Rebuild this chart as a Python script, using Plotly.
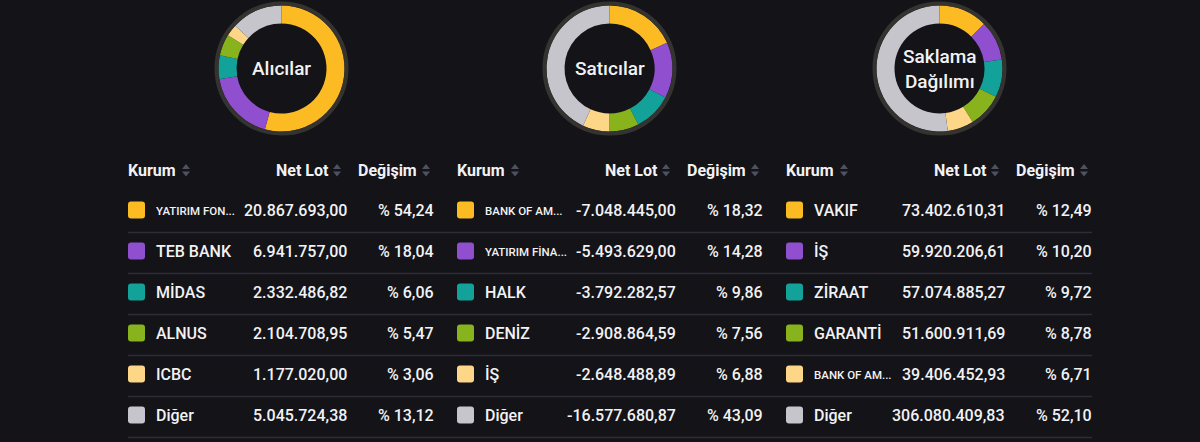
import plotly.graph_objects as go

W, H = 1200, 442
BG = "#131318"

# ---------------- data ----------------
donut_titles = ["Alıcılar", "Satıcılar", "Saklama<br>Dağılımı"]

buy_names = ["YATIRIM FON...", "TEB BANK", "MİDAS", "ALNUS", "ICBC", "Diğer"]
buy_lots = [20867693.00, 6941757.00, 2332486.82, 2104708.95, 1177020.00, 5045724.38]
buy_pct = [54.24, 18.04, 6.06, 5.47, 3.06, 13.12]

sell_names = ["BANK OF AM...", "YATIRIM FİNA...", "HALK", "DENİZ", "İŞ", "Diğer"]
sell_lots = [-7048445.00, -5493629.00, -3792282.57, -2908864.59, -2648488.89, -16577680.87]
sell_pct = [18.32, 14.28, 9.86, 7.56, 6.88, 43.09]

hold_names = ["VAKIF", "İŞ", "ZİRAAT", "GARANTİ", "BANK OF AM...", "Diğer"]
hold_lots = [73402610.31, 59920206.61, 57074885.27, 51600911.69, 39406452.93, 306080409.83]
hold_pct = [12.49, 10.20, 9.72, 8.78, 6.71, 52.10]

headers = ["Kurum", "Net Lot", "Değişim"]

# ---------------- style ----------------
colors = ["#fcbb22", "#8f4fce", "#13a29a", "#88b31c", "#fdd687", "#c5c5cb"]
FONT = "Roboto"
TXT = "#f2f2f4"
SEP = "#2c2d35"
ICON = "#4e5160"

tables = [
    dict(names=buy_names, lots=buy_lots, pct=buy_pct, x0=128),
    dict(names=sell_names, lots=sell_lots, pct=sell_pct, x0=457),
    dict(names=hold_names, lots=hold_lots, pct=hold_pct, x0=786),
]
donut_cx = [281.5, 609.5, 939.5]
donut_cy = 68.5
R = 63
HOLE = 45 / 63


def fmt_tr(v):
    s = f"{abs(v):,.2f}"
    s = s.replace(",", "X").replace(".", ",").replace("X", ".")
    return ("-" if v < 0 else "") + s


def fmt_pct(p):
    return "% " + f"{p:.2f}".replace(".", ",")


def A(x, y, text, anchor, size, weight=500):
    return dict(x=x, y=y, xref="x", yref="y", text=text, showarrow=False,
                xanchor=anchor, yanchor="middle", borderpad=0, borderwidth=0,
                font=dict(family=FONT, size=size, color=TXT, weight=weight))


fig = go.Figure()
shapes = []
ann = []

for i, t in enumerate(tables):
    cx = donut_cx[i]
    fig.add_trace(go.Pie(
        values=t["pct"], labels=t["names"], sort=False, direction="clockwise",
        rotation=0, hole=HOLE, textinfo="none", hoverinfo="label+percent",
        marker=dict(colors=colors, line=dict(width=0)),
        domain=dict(x=[(cx - R) / W, (cx + R) / W],
                    y=[1 - (donut_cy + R) / H, 1 - (donut_cy - R) / H]),
        showlegend=False,
    ))
    rr = R + 2
    shapes.append(dict(type="circle", xref="x", yref="y",
                       x0=cx - rr, x1=cx + rr, y0=donut_cy - rr, y1=donut_cy + rr,
                       line=dict(color="rgba(62,60,55,0.8)", width=4), layer="above"))
    ann.append(A(cx, donut_cy, donut_titles[i], "center", 19))

    x0 = t["x0"]
    hy = 170
    ann.append(A(x0, hy, "<b>Kurum</b>", "left", 16))
    ann.append(A(x0 + 201, hy, "<b>Net Lot</b>", "right", 16))
    ann.append(A(x0 + 230, hy, "<b>Değişim</b>", "left", 16))
    for ix in [x0 + 58, x0 + 209, x0 + 298]:
        shapes.append(dict(type="path", xref="x", yref="y",
                           path=f"M {ix-4},{hy-1} L {ix+4},{hy-1} L {ix},{hy-6} Z",
                           fillcolor=ICON, line=dict(width=0)))
        shapes.append(dict(type="path", xref="x", yref="y",
                           path=f"M {ix-4},{hy+1.5} L {ix+4},{hy+1.5} L {ix},{hy+6.5} Z",
                           fillcolor=ICON, line=dict(width=0)))
    for j, (nm, lot, p) in enumerate(zip(t["names"], t["lots"], t["pct"])):
        ry = 210 + 41 * j
        sx0, sx1, sy0, sy1, r = x0, x0 + 17, ry - 8.5, ry + 8.5, 3
        shapes.append(dict(
            type="path", xref="x", yref="y",
            path=(f"M {sx0+r},{sy0} L {sx1-r},{sy0} Q {sx1},{sy0} {sx1},{sy0+r} "
                  f"L {sx1},{sy1-r} Q {sx1},{sy1} {sx1-r},{sy1} L {sx0+r},{sy1} "
                  f"Q {sx0},{sy1} {sx0},{sy1-r} L {sx0},{sy0+r} Q {sx0},{sy0} {sx0+r},{sy0} Z"),
            fillcolor=colors[j], line=dict(width=0)))
        small = nm.endswith("...")
        ann.append(A(x0 + 28, ry + (1 if small else 0), nm, "left", 11.5 if small else 16))
        ann.append(A(x0 + 219, ry, fmt_tr(lot), "right", 16))
        ann.append(A(x0 + 306, ry, fmt_pct(p), "right", 16))

for j in range(6):
    sy = 232.5 + 41 * j
    shapes.append(dict(type="line", xref="x", yref="y", x0=128, x1=1092, y0=sy, y1=sy,
                       line=dict(color=SEP, width=1.5)))

fig.update_layout(
    width=W, height=H, margin=dict(l=0, r=0, t=0, b=0),
    paper_bgcolor=BG, plot_bgcolor=BG,
    xaxis=dict(range=[0, W], visible=False, fixedrange=True),
    yaxis=dict(range=[H, 0], visible=False, fixedrange=True),
    shapes=shapes, annotations=ann, showlegend=False,
)

fig.write_html("out.html")
